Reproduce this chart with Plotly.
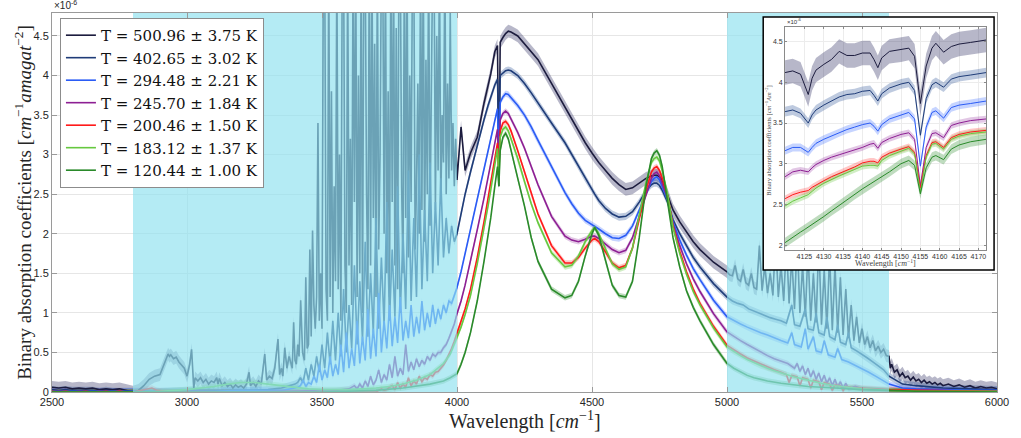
import plotly.graph_objects as go

# ---------------- data (values in units of 1e-6 cm^-1 amagat^-2) ----------------
LABELS = ["T = 500.96 ± 3.75 K", "T = 402.65 ± 3.02 K", "T = 294.48 ± 2.21 K",
          "T = 245.70 ± 1.84 K", "T = 200.46 ± 1.50 K", "T = 183.12 ± 1.37 K",
          "T = 120.44 ± 1.00 K"]
LINE_COLORS = ["#1c1c3e", "#1f3c78", "#2b5cf5", "#8d1f93", "#ff1a1a", "#66c83f", "#2a8a2a"]
BAND_COLORS = ["rgba(50,50,100,0.35)", "rgba(40,80,150,0.30)", "rgba(50,100,255,0.28)",
               "rgba(140,30,150,0.25)", "rgba(255,30,30,0.25)", "rgba(100,200,60,0.30)",
               "rgba(42,138,42,0.30)"]
BAND_HW = [0.08, 0.045, 0.04, 0.035, 0.035, 0.035, 0.035]
INSET_HW = [0.15, 0.06, 0.05, 0.04, 0.04, 0.04, 0.06]
SHADED = [(2800, 4000), (5000, 5600)]

WN_LEFT = [2500, 2525, 2550, 2575, 2600, 2625, 2650, 2675, 2700, 2725, 2750, 2775]
T500_LEFT = [0.06, 0.05, 0.06, 0.04, 0.05, 0.04, 0.05, 0.03, 0.04, 0.03, 0.04, 0.02]
T402_LEFT = [0.03, 0.02, 0.03, 0.02, 0.02, 0.02, 0.02, 0.01, 0.02, 0.01, 0.01, 0.01]
T294_LEFT = [0.01, 0.01, 0.01, 0.01, 0.01, 0.01, 0.01, 0.01, 0.01, 0.01, 0.01, 0.01]
T245_LEFT = [0.0, 0.01, 0.0, 0.0, 0.01, 0.0, 0.0, 0.01, 0.0, 0.0, 0.01, 0.0]
T200_LEFT = [0.01, 0.0, 0.01, 0.0, 0.0, 0.01, 0.0, 0.0, 0.01, 0.0, 0.01, 0.0]
T183_LEFT = [0.0, 0.0, 0.0, 0.0, 0.0, 0.0, 0.0, 0.0, 0.0, 0.0, 0.0, 0.0]
T120_LEFT = [0.0, 0.0, 0.0, 0.0, 0.0, 0.0, 0.0, 0.0, 0.0, 0.0, 0.0, 0.0]

# first shaded band (2800-4000)
T500_C1_WN = [2800, 2820, 2840, 2860, 2880, 2900, 2910, 2920, 2930, 2935, 2940, 2950, 2960, 2970,
              2980, 2990, 3000, 3005, 3010, 3017, 3022, 3025, 3030, 3040, 3050, 3060, 3070, 3080,
              3090, 3100, 3110, 3115, 3120, 3130, 3140, 3150, 3160, 3170, 3180, 3190, 3200, 3210,
              3220, 3230, 3235, 3245, 3255, 3265, 3275, 3288, 3295, 3305, 3315, 3325, 3337, 3343,
              3350, 3355, 3362, 3370, 3378, 3384, 3390, 3395, 3400, 3405, 3410, 3415, 3421, 3428,
              3435, 3440, 3445] + list(range(3450, 4000, 5))
T500_C1 = [0.0, 0.02, 0.08, 0.16, 0.2, 0.22, 0.3, 0.4, 0.48, 0.45, 0.47, 0.42, 0.44, 0.38,
           0.34, 0.3, 0.2, 0.26, 0.35, 0.54, 0.15, 0.05, 0.18, 0.14, 0.18, 0.12, 0.16, 0.1,
           0.14, 0.12, 0.18, 0.1, 0.17, 0.08, 0.12, 0.07, 0.1, 0.05, 0.09, 0.06, 0.08, 0.05,
           0.1, 0.25, 0.08, 0.12, 0.07, 0.14, 0.1, 0.48, 0.15, 0.2, 0.17, 0.3, 0.67, 0.22,
           0.3, 0.2, 0.56, 0.3, 0.45, 0.38, 0.3, 0.88, 0.4, 0.35, 0.6, 0.45, 1.16, 0.5,
           0.4, 1.45, 0.55,
           0.6, 1.8, 0.7, 2.04, 1.1, 0.8, 1.2, 3.4, 0.9, 1.5,
           0.8, 5.5, 5.5, 1.3, 0.9, 5.5, 1.2, 3.8, 1.0, 2.6,
           1.4, 5.5, 1.3, 3.0, 0.9, 5.5, 5.5, 1.6, 1.0, 5.5,
           1.6, 3.2, 1.1, 5.5, 2.4, 5.5, 1.2, 4.0, 1.5, 5.5,
           1.0, 5.5, 5.5, 2.5, 1.3, 5.5, 1.6, 5.5, 2.2, 4.4,
           1.2, 5.5, 1.8, 3.0, 5.5, 5.5, 2.0, 5.5, 1.5, 3.8,
           1.2, 5.5, 2.4, 5.5, 1.6, 4.6, 1.3, 5.5, 5.5, 2.6,
           1.5, 5.5, 2.2, 5.5, 1.7, 4.0, 2.4, 5.5, 5.5, 1.8,
           2.6, 3.9, 2.0, 5.5, 2.3, 5.5, 1.9, 4.2, 2.5, 5.5,
           2.1, 3.6, 5.5, 5.5, 2.3, 4.5, 2.8, 5.5, 2.4, 3.5,
           2.9, 5.5, 2.5, 3.9, 2.7, 4.8, 2.8, 3.4, 2.6, 3.2]

T402_C1_WN = [2800, 2900, 3000, 3100, 3200, 3300, 3350, 3400] + list(range(3410, 4000, 10))
T402_C1 = [0.01, 0.01, 0.02, 0.02, 0.02, 0.03, 0.05, 0.1,
           0.12, 0.18, 0.12, 0.3, 0.15, 0.35, 0.2, 0.45, 0.25, 0.6,
           0.3, 0.75, 0.35, 0.9, 0.4, 1.0, 0.45, 1.3, 0.5, 1.1,
           0.55, 1.6, 0.6, 1.4, 0.65, 1.9, 0.7, 1.5, 0.75, 2.2,
           0.8, 1.7, 0.85, 2.4, 0.9, 1.8, 0.95, 2.6, 1.0, 2.0,
           1.05, 2.8, 1.15, 2.2, 1.2, 3.0, 1.3, 2.3, 1.4, 2.9,
           1.5, 2.4, 1.6, 2.7, 1.7, 2.2, 1.75, 2.1, 1.9]

T294_C1_WN = [2800, 2900, 3000, 3100, 3200, 3300, 3350, 3400] + list(range(3410, 4000, 10))
T294_C1 = [0.01, 0.01, 0.01, 0.01, 0.02, 0.02, 0.02, 0.05,
           0.06, 0.08, 0.15, 0.07, 0.12, 0.1, 0.2, 0.12, 0.35, 0.15,
           0.28, 0.18, 0.45, 0.2, 0.35, 0.22, 0.6, 0.25, 0.75, 0.3,
           0.55, 0.33, 0.9, 0.36, 0.7, 0.4, 1.05, 0.42, 0.8, 0.45,
           1.25, 0.5, 0.9, 0.55, 1.1, 0.58, 0.95, 0.62, 1.2, 0.65,
           0.9, 0.68, 1.1, 0.7, 0.95, 0.74, 1.15, 0.78, 1.0, 0.82,
           1.1, 0.86, 1.05, 0.92, 1.1, 1.0, 1.15, 1.12, 1.22]

T245_C1_WN = [2800, 3000, 3200, 3400, 3500, 3550, 3600] + list(range(3620, 4000, 10))
T245_C1 = [0.0, 0.01, 0.0, 0.01, 0.01, 0.02, 0.04,
           0.08, 0.04, 0.1, 0.05, 0.14, 0.07, 0.2, 0.09, 0.15, 0.28,
           0.12, 0.22, 0.15, 0.35, 0.18, 0.45, 0.2, 0.3, 0.22, 0.6,
           0.26, 0.38, 0.28, 0.42, 0.32, 0.4, 0.35, 0.45, 0.4, 0.48,
           0.45, 0.5, 0.5, 0.56, 0.6, 0.68, 0.76, 0.86]

T200_C1_WN = [2800, 2850, 2870, 2890, 2950, 3700] + list(range(3720, 4000, 10))
T200_C1 = [0.0, 0.03, 0.05, 0.02, 0.0, 0.0,
           0.04, 0.02, 0.03, 0.06, 0.08, 0.03, 0.12, 0.05, 0.1, 0.06,
           0.18, 0.08, 0.14, 0.1, 0.2, 0.13, 0.18, 0.16, 0.22, 0.2,
           0.25, 0.26, 0.3, 0.34, 0.4, 0.47, 0.55, 0.64]

T183_C1_WN = [2800, 2900, 3000, 3100, 3150, 3200, 3250, 3300, 3350, 3400, 3450, 3500, 3600,
              3700, 3750, 3800, 3850, 3900, 3950, 3975]
T183_C1 = [0.0, 0.01, 0.03, 0.07, 0.1, 0.12, 0.12, 0.1, 0.08, 0.06, 0.04, 0.03, 0.03,
           0.05, 0.07, 0.1, 0.15, 0.22, 0.36, 0.48]

T120_C1_WN = [2800, 3000, 3500, 3700, 3800, 3900, 3950, 3975]
T120_C1 = [0.0, 0.0, 0.0, 0.02, 0.05, 0.1, 0.14, 0.18]

# central band 4000-5000 (shared wavenumber grid)
WN_MID = [4000, 4015, 4030, 4050, 4075, 4100, 4115, 4125, 4140, 4150,
          4155, 4160, 4170, 4180, 4190, 4200, 4225, 4250, 4275, 4300,
          4350, 4400, 4425, 4450, 4475, 4500, 4510, 4525, 4550, 4575,
          4600, 4625, 4650, 4675, 4700, 4720, 4730, 4740, 4750, 4760,
          4780, 4800, 4825, 4850, 4875, 4900, 4950]
T500_MID = [2.68, 3.35, 2.8, 3.02, 3.22, 3.65, 3.86, 4.02, 4.3, 4.38,
            2.6, 4.42, 4.48, 4.53, 4.56, 4.55, 4.5, 4.4, 4.3, 4.2,
            3.9, 3.6, 3.45, 3.3, 3.15, 3.02, 2.97, 2.9, 2.8, 2.7,
            2.62, 2.56, 2.58, 2.64, 2.7, 2.73, 2.74, 2.74, 2.72, 2.68,
            2.48, 2.3, 2.15, 2.02, 1.9, 1.8, 1.64]
T402_MID = [2.0, 2.25, 2.5, 2.78, 3.12, 3.44, 3.62, 3.72, 3.88, 3.95,
            3.1, 4.0, 4.03, 4.06, 4.07, 4.06, 4.0, 3.9, 3.78, 3.65,
            3.4, 3.15, 3.0, 2.85, 2.7, 2.56, 2.5, 2.42, 2.32, 2.25,
            2.21, 2.22, 2.28, 2.4, 2.54, 2.62, 2.64, 2.64, 2.61, 2.55,
            2.4, 2.18, 2.0, 1.85, 1.7, 1.58, 1.37]
T294_MID = [1.32, 1.52, 1.75, 2.05, 2.45, 2.82, 3.05, 3.2, 3.45, 3.58,
            2.9, 3.66, 3.73, 3.77, 3.76, 3.72, 3.62, 3.5, 3.35, 3.18,
            2.85, 2.52, 2.38, 2.26, 2.17, 2.12, 2.1, 2.06, 2.0, 1.95,
            1.94, 1.98, 2.1, 2.3, 2.52, 2.66, 2.7, 2.72, 2.68, 2.6,
            2.42, 2.15, 1.92, 1.73, 1.56, 1.42, 1.16]
T245_MID = [0.99, 1.15, 1.35, 1.65, 2.05, 2.45, 2.7, 2.88, 3.15, 3.32,
            2.75, 3.44, 3.52, 3.55, 3.52, 3.45, 3.28, 3.08, 2.85, 2.62,
            2.22, 1.97, 1.92, 1.9, 1.93, 1.97, 1.97, 1.94, 1.87, 1.8,
            1.76, 1.79, 1.95, 2.22, 2.5, 2.7, 2.76, 2.78, 2.73, 2.64,
            2.45, 2.12, 1.85, 1.62, 1.43, 1.27, 0.99]
T200_MID = [0.74, 0.88, 1.05, 1.3, 1.7, 2.15, 2.45, 2.65, 2.98, 3.15,
            2.75, 3.3, 3.4, 3.42, 3.38, 3.3, 3.05, 2.78, 2.5, 2.25,
            1.85, 1.63, 1.63, 1.7, 1.82, 1.92, 1.94, 1.9, 1.77, 1.63,
            1.57, 1.6, 1.82, 2.2, 2.55, 2.78, 2.83, 2.85, 2.8, 2.7,
            2.48, 2.1, 1.78, 1.52, 1.3, 1.12, 0.83]
T183_MID = [0.68, 0.82, 0.98, 1.22, 1.62, 2.05, 2.35, 2.55, 2.9, 3.08,
            2.65, 3.22, 3.32, 3.35, 3.3, 3.2, 2.95, 2.66, 2.38, 2.14,
            1.76, 1.58, 1.6, 1.72, 1.9, 2.04, 2.08, 2.0, 1.8, 1.62,
            1.55, 1.58, 1.82, 2.25, 2.65, 2.9, 2.95, 2.97, 2.92, 2.8,
            2.5, 2.08, 1.75, 1.49, 1.27, 1.1, 0.81]
T120_MID = [0.23, 0.35, 0.5, 0.75, 1.15, 1.65, 1.98, 2.2, 2.6, 2.85,
            2.6, 3.05, 3.22, 3.27, 3.2, 3.05, 2.7, 2.35, 1.95, 1.65,
            1.3, 1.19, 1.22, 1.4, 1.72, 2.0, 2.08, 1.98, 1.65, 1.35,
            1.22, 1.2, 1.4, 1.95, 2.6, 2.95, 3.02, 3.05, 2.99, 2.85,
            2.4, 1.95, 1.58, 1.28, 1.07, 0.9, 0.6]

# second shaded band (5000-5600)
T500_C2_WN = list(range(5000, 5610, 10))
T500_C2 = [1.52, 1.48, 1.47, 1.6, 1.43, 1.4, 1.55, 1.38, 1.35, 1.5,
           1.32, 1.3, 1.85, 1.28, 1.6, 1.25, 1.5, 1.22, 1.95, 1.2,
           1.6, 1.15, 1.9, 1.12, 1.7, 1.05, 1.95, 1.0, 1.6, 0.95,
           1.8, 0.9, 1.5, 0.88, 1.9, 0.85, 1.55, 0.8, 1.75, 0.78,
           1.6, 0.75, 1.45, 0.72, 1.3, 0.68, 1.1, 0.65, 0.95, 0.62,
           0.8, 0.6, 0.7, 0.56, 0.65, 0.52, 0.58, 0.5, 0.54, 0.46,
           0.45]
T402_C2_WN = [5000, 5020, 5040, 5060, 5080, 5100, 5120, 5140, 5160, 5180, 5200, 5220, 5240,
              5250, 5270, 5290, 5300, 5320, 5330, 5340, 5360, 5370, 5380, 5400, 5410, 5420,
              5440, 5450, 5460, 5480, 5500, 5520, 5540, 5560, 5580, 5600]
T402_C2 = [1.2, 1.15, 1.12, 1.1, 1.05, 1.02, 1.0, 0.97, 0.94, 0.92, 0.9, 0.87, 1.1,
           0.85, 0.83, 1.05, 0.8, 0.78, 1.0, 0.75, 0.72, 0.95, 0.7, 0.66, 0.85, 0.63,
           0.6, 0.75, 0.56, 0.52, 0.48, 0.43, 0.38, 0.33, 0.28, 0.2]
T294_C2_WN = [5000, 5025, 5050, 5075, 5100, 5125, 5150, 5175, 5200, 5225, 5240, 5250, 5275,
              5290, 5300, 5320, 5330, 5350, 5360, 5375, 5400, 5410, 5425, 5450, 5475, 5500,
              5525, 5550, 5575, 5600]
T294_C2 = [0.95, 0.9, 0.86, 0.82, 0.78, 0.75, 0.72, 0.68, 0.65, 0.62, 0.75, 0.6, 0.57,
           0.8, 0.54, 0.7, 0.52, 0.5, 0.65, 0.47, 0.44, 0.55, 0.41, 0.38, 0.34, 0.3,
           0.25, 0.2, 0.15, 0.1]
T245_C2_WN = [5000, 5025, 5050, 5075, 5100, 5125, 5150, 5175, 5200, 5225] + \
             list(range(5250, 5460, 10)) + [5475, 5500, 5550, 5600]
T245_C2 = [0.76, 0.7, 0.65, 0.6, 0.55, 0.5, 0.46, 0.42, 0.39, 0.36,
           0.3, 0.36, 0.26, 0.33, 0.22, 0.3, 0.19, 0.27, 0.16, 0.24,
           0.13, 0.21, 0.11, 0.18, 0.08, 0.16, 0.06, 0.13, 0.05, 0.11, 0.04,
           0.07, 0.04, 0.03, 0.02]
T200_C2_WN = [5000, 5025, 5050, 5075, 5100, 5125, 5150, 5175, 5200, 5220, 5230, 5240, 5260,
              5270, 5280, 5300, 5310, 5320, 5340, 5350, 5360, 5380, 5390, 5400, 5420, 5430,
              5440, 5460, 5500, 5550, 5600]
T200_C2 = [0.59, 0.53, 0.48, 0.43, 0.39, 0.35, 0.31, 0.28, 0.25, 0.22, 0.12, 0.21, 0.19,
           0.08, 0.18, 0.16, 0.05, 0.15, 0.13, 0.03, 0.12, 0.1, 0.02, 0.09, 0.08, 0.02,
           0.07, 0.06, 0.05, 0.04, 0.03]
T183_C2_WN = [5000, 5025, 5050, 5075, 5100, 5125, 5150, 5175, 5200, 5250, 5300, 5350, 5400,
              5450, 5500, 5600]
T183_C2 = [0.57, 0.51, 0.46, 0.41, 0.37, 0.33, 0.3, 0.27, 0.24, 0.19, 0.15, 0.11, 0.08,
           0.06, 0.04, 0.02]
T120_C2_WN = [5000, 5025, 5050, 5075, 5100, 5150, 5200, 5250, 5300, 5400, 5500, 5600]
T120_C2 = [0.36, 0.3, 0.25, 0.21, 0.18, 0.14, 0.11, 0.09, 0.07, 0.05, 0.03, 0.02]

# right tail 5600-6000
T500_R_WN = [5605, 5610, 5620, 5630, 5640, 5650, 5660, 5670, 5680, 5690, 5700, 5710, 5720,
             5730, 5740, 5750, 5760, 5770, 5780, 5790, 5800, 5820, 5840, 5860, 5880, 5900,
             5920, 5940, 5960, 5980, 6000]
T500_R = [0.3, 0.35, 0.25, 0.28, 0.2, 0.24, 0.18, 0.2, 0.15, 0.19, 0.14, 0.16, 0.12,
          0.15, 0.11, 0.13, 0.1, 0.12, 0.09, 0.11, 0.08, 0.1, 0.07, 0.09, 0.06, 0.08,
          0.05, 0.07, 0.05, 0.06, 0.04]
T402_R_WN = [5650, 5700, 5800, 5900, 6000]
T402_R = [0.1, 0.08, 0.05, 0.04, 0.03]
T294_R_WN = [5650, 5700, 5800, 5900, 6000]
T294_R = [0.05, 0.04, 0.03, 0.02, 0.02]
T245_R_WN = [5700, 6000]
T245_R = [0.02, 0.01]
T200_R_WN = [5700, 6000]
T200_R = [0.02, 0.01]
T183_R_WN = [5700, 6000]
T183_R = [0.01, 0.01]
T120_R_WN = [5700, 6000]
T120_R = [0.01, 0.0]

# inset (zoom 4120-4172 cm^-1)
WN_IN = [4120, 4122, 4124, 4125, 4126, 4127, 4128, 4130, 4132, 4134, 4136, 4138, 4140, 4142,
         4143, 4144, 4145, 4147, 4150, 4152, 4153.5, 4155, 4156.5, 4158, 4159, 4161, 4163,
         4165, 4168, 4172]
IN_T500 = [4.12, 4.14, 4.1, 3.98, 3.85, 4.05, 4.15, 4.22, 4.28, 4.38, 4.33, 4.33, 4.36, 4.36,
           4.28, 4.18, 4.3, 4.38, 4.4, 4.42, 4.32, 3.74, 4.2, 4.42, 4.48, 4.37, 4.44,
           4.47, 4.49, 4.52]
IN_T402 = [3.64, 3.66, 3.62, 3.56, 3.5, 3.6, 3.66, 3.72, 3.77, 3.82, 3.85, 3.86, 3.89, 3.9,
           3.84, 3.77, 3.86, 3.93, 3.98, 4.0, 3.9, 3.35, 3.8, 3.97, 4.0, 3.94, 4.04,
           4.07, 4.09, 4.12]
IN_T294 = [3.16, 3.2, 3.2, 3.17, 3.14, 3.2, 3.25, 3.3, 3.34, 3.38, 3.42, 3.45, 3.48, 3.5,
           3.46, 3.4, 3.48, 3.55, 3.6, 3.63, 3.55, 2.97, 3.45, 3.63, 3.65, 3.56, 3.69,
           3.72, 3.74, 3.77]
IN_T245 = [2.84, 2.9, 2.92, 2.91, 2.9, 2.95, 2.99, 3.04, 3.08, 3.11, 3.14, 3.17, 3.2, 3.24,
           3.25, 3.19, 3.26, 3.31, 3.36, 3.38, 3.3, 2.73, 3.2, 3.37, 3.38, 3.32, 3.47,
           3.5, 3.53, 3.55]
IN_T200 = [2.57, 2.62, 2.65, 2.66, 2.67, 2.71, 2.74, 2.79, 2.84, 2.88, 2.92, 2.96, 3.01, 3.03,
           3.03, 3.01, 3.08, 3.13, 3.18, 3.21, 3.14, 2.7, 3.1, 3.26, 3.27, 3.2, 3.32,
           3.36, 3.39, 3.41]
IN_T183 = [2.48, 2.54, 2.58, 2.6, 2.62, 2.66, 2.7, 2.76, 2.81, 2.85, 2.89, 2.93, 2.97, 2.98,
           2.98, 2.97, 3.04, 3.1, 3.16, 3.19, 3.12, 2.65, 3.08, 3.24, 3.25, 3.18, 3.3,
           3.34, 3.37, 3.39]
IN_T120 = [2.03, 2.1, 2.16, 2.19, 2.22, 2.25, 2.28, 2.35, 2.42, 2.49, 2.55, 2.62, 2.69, 2.75,
           2.78, 2.8, 2.84, 2.9, 3.0, 3.04, 2.98, 2.63, 2.95, 3.08, 3.1, 3.05, 3.18,
           3.23, 3.27, 3.3]

X_TICKS = [2500, 3000, 3500, 4000, 4500, 5000, 5500, 6000]
Y_TICKS = [0, 0.5, 1, 1.5, 2, 2.5, 3, 3.5, 4, 4.5]
Y_TICKTEXT = ["0", "0.5", "1", "1.5", "2", "2.5", "3", "3.5", "4", "4.5"]
IN_X_TICKS = [4125, 4130, 4135, 4140, 4145, 4150, 4155, 4160, 4165, 4170]
IN_Y_TICKS = [2, 2.5, 3, 3.5, 4, 4.5]
IN_Y_TICKTEXT = ["2", "2.5", "3", "3.5", "4", "4.5"]

X_RANGE = [2500, 6000]
Y_RANGE = [0, 4.79]
IN_X_RANGE = [4120, 4172]
IN_Y_RANGE = [1.94, 4.68]

# ---------------- assemble series ----------------
segments = [
    (T500_LEFT, T500_C1_WN, T500_C1, T500_MID, T500_C2_WN, T500_C2, T500_R_WN, T500_R),
    (T402_LEFT, T402_C1_WN, T402_C1, T402_MID, T402_C2_WN, T402_C2, T402_R_WN, T402_R),
    (T294_LEFT, T294_C1_WN, T294_C1, T294_MID, T294_C2_WN, T294_C2, T294_R_WN, T294_R),
    (T245_LEFT, T245_C1_WN, T245_C1, T245_MID, T245_C2_WN, T245_C2, T245_R_WN, T245_R),
    (T200_LEFT, T200_C1_WN, T200_C1, T200_MID, T200_C2_WN, T200_C2, T200_R_WN, T200_R),
    (T183_LEFT, T183_C1_WN, T183_C1, T183_MID, T183_C2_WN, T183_C2, T183_R_WN, T183_R),
    (T120_LEFT, T120_C1_WN, T120_C1, T120_MID, T120_C2_WN, T120_C2, T120_R_WN, T120_R),
]
series = []
for (lv, c1x, c1y, mv, c2x, c2y, rx, ry) in segments:
    xs = WN_LEFT + c1x + WN_MID + c2x + rx
    ys = lv + c1y + mv + c2y + ry
    series.append((xs, ys))

inset_series = [IN_T500, IN_T402, IN_T294, IN_T245, IN_T200, IN_T183, IN_T120]

fig = go.Figure()

# main: uncertainty bands
for i, (xs, ys) in enumerate(series):
    hw = BAND_HW[i]
    fig.add_trace(go.Scatter(
        x=xs + xs[::-1], y=[v + hw for v in ys] + [v - hw for v in ys[::-1]],
        fill="toself", fillcolor=BAND_COLORS[i], line=dict(width=0),
        mode="lines", showlegend=False, hoverinfo="skip", xaxis="x", yaxis="y"))
# main: lines
for i, (xs, ys) in enumerate(series):
    fig.add_trace(go.Scatter(
        x=xs, y=ys, mode="lines", name=LABELS[i],
        line=dict(color=LINE_COLORS[i], width=1.6), hoverinfo="skip",
        xaxis="x", yaxis="y"))
# main: shaded (cyan) regions drawn over the data
for (a, b) in SHADED:
    fig.add_trace(go.Scatter(
        x=[a, b, b, a, a], y=[Y_RANGE[0] - 1, Y_RANGE[0] - 1, Y_RANGE[1] + 1, Y_RANGE[1] + 1, Y_RANGE[0] - 1],
        fill="toself", fillcolor="rgba(145,226,239,0.68)", line=dict(width=0),
        mode="lines", showlegend=False, hoverinfo="skip", xaxis="x", yaxis="y"))

# inset white backdrop (own subplot, above main)
fig.add_trace(go.Scatter(
    x=[0, 1, 1, 0, 0], y=[0, 0, 1, 1, 0], fill="toself", fillcolor="white",
    line=dict(width=0), mode="lines", showlegend=False, hoverinfo="skip",
    xaxis="x2", yaxis="y2"))

# inset bands and lines
for i, ys in enumerate(inset_series):
    hw = INSET_HW[i]
    fig.add_trace(go.Scatter(
        x=WN_IN + WN_IN[::-1], y=[v + hw for v in ys] + [v - hw for v in ys[::-1]],
        fill="toself", fillcolor=BAND_COLORS[i], line=dict(width=0), mode="lines",
        showlegend=False, hoverinfo="skip", xaxis="x3", yaxis="y3"))
for i, ys in enumerate(inset_series):
    fig.add_trace(go.Scatter(
        x=WN_IN, y=ys, mode="lines", line=dict(color=LINE_COLORS[i], width=1),
        showlegend=False, hoverinfo="skip", xaxis="x3", yaxis="y3"))

AX_GRAY = "#9a9a9a"
TICK_FONT = dict(family="Liberation Sans", size=11, color="#262626")
SERIF = "Liberation Serif"

# inset geometry (paper fractions)
BOX_X = [0.7526, 0.9969]
BOX_Y = [0.3219, 0.9894]
IN_X = [0.7757, 0.9885]
IN_Y = [0.3747, 0.9631]

fig.update_layout(
    width=1021, height=438, autosize=False,
    margin=dict(l=52, r=15, t=13, b=46),
    paper_bgcolor="white", plot_bgcolor="white",
    showlegend=True,
    legend=dict(x=0.0084, y=0.987, xanchor="left", yanchor="top",
                bgcolor="white", bordercolor="#8c8c8c", borderwidth=1,
                font=dict(family="DejaVu Serif", size=15, color="#111111"),
                itemwidth=30, tracegroupgap=0),
    xaxis=dict(domain=[0, 1], range=X_RANGE, tickvals=X_TICKS, showgrid=True,
               gridcolor="#e6e6e6", showline=True, linecolor=AX_GRAY, linewidth=1,
               mirror="ticks", ticks="inside", ticklen=5, tickcolor=AX_GRAY,
               tickfont=TICK_FONT, zeroline=False, anchor="y"),
    yaxis=dict(domain=[0, 1], range=Y_RANGE, tickvals=Y_TICKS, ticktext=Y_TICKTEXT,
               showgrid=True, gridcolor="#e6e6e6", showline=True, linecolor=AX_GRAY,
               linewidth=1, mirror="ticks", ticks="inside", ticklen=5, tickcolor=AX_GRAY,
               tickfont=TICK_FONT, zeroline=False, anchor="x"),
    xaxis2=dict(domain=BOX_X, range=[0, 1], visible=False, anchor="y2", fixedrange=True),
    yaxis2=dict(domain=BOX_Y, range=[0, 1], visible=False, anchor="x2", fixedrange=True),
    xaxis3=dict(domain=IN_X, range=IN_X_RANGE, tickvals=IN_X_TICKS, showgrid=True,
                gridcolor="#ececec", showline=True, linecolor="#8a8a8a", mirror="ticks",
                ticks="inside", ticklen=2, tickcolor="#8a8a8a",
                tickfont=dict(family="Liberation Sans", size=7, color="#333333"),
                zeroline=False, anchor="y3"),
    yaxis3=dict(domain=IN_Y, range=IN_Y_RANGE, tickvals=IN_Y_TICKS, ticktext=IN_Y_TICKTEXT,
                showgrid=True, gridcolor="#ececec", showline=True, linecolor="#8a8a8a",
                mirror="ticks", ticks="inside", ticklen=2, tickcolor="#8a8a8a",
                tickfont=dict(family="Liberation Sans", size=7, color="#333333"),
                zeroline=False, anchor="x3"),
    shapes=[dict(type="rect", xref="paper", yref="paper", x0=BOX_X[0], x1=BOX_X[1],
                 y0=BOX_Y[0], y1=BOX_Y[1], line=dict(color="black", width=1.5),
                 fillcolor="rgba(0,0,0,0)", layer="above")],
    annotations=[
        dict(text="Binary absorption coefficients [<i>cm</i><sup>−1</sup><i>amagat</i><sup>−2</sup>]",
             xref="paper", yref="paper", x=-0.0314, y=0.5, textangle=-90, showarrow=False,
             xanchor="center", yanchor="middle",
             font=dict(family=SERIF, size=19, color="#262626")),
        dict(text="Wavelength [<i>cm</i><sup>−1</sup>]", xref="paper", yref="paper",
             x=0.5, y=-0.0765, showarrow=False, xanchor="center", yanchor="middle",
             font=dict(family=SERIF, size=20, color="#262626")),
        dict(text="×10<sup>-6</sup>", xref="paper", yref="paper", x=0.0, y=1.0,
             showarrow=False, xanchor="left", yanchor="bottom",
             font=dict(family="Liberation Sans", size=10, color="#262626")),
        dict(text="×10<sup>-6</sup>", xref="paper", yref="paper", x=IN_X[0], y=IN_Y[1],
             showarrow=False, xanchor="left", yanchor="bottom",
             font=dict(family="Liberation Sans", size=6, color="#333333")),
        dict(text="Wavelength [<i>cm</i><sup>−1</sup>]", xref="paper", yref="paper",
             x=0.8816, y=0.3404, showarrow=False, xanchor="center", yanchor="middle",
             font=dict(family=SERIF, size=8, color="#444444")),
        dict(text="Binary absorption coefficients [<i>cm</i><sup>−1</sup><i>Am</i><sup>−2</sup>]",
             xref="paper", yref="paper", x=0.7585, y=0.665, textangle=-90, showarrow=False,
             xanchor="center", yanchor="middle",
             font=dict(family=SERIF, size=6.5, color="#444444")),
    ],
)

# remove the browser's default body margin and scrollbars so the figure sits at the page origin
fig.write_html("out.html", config={"displayModeBar": False, "responsive": False},
               post_script="document.body.style.margin='0';"
                           "document.body.style.overflow='hidden';"
                           "document.documentElement.style.overflow='hidden';")
